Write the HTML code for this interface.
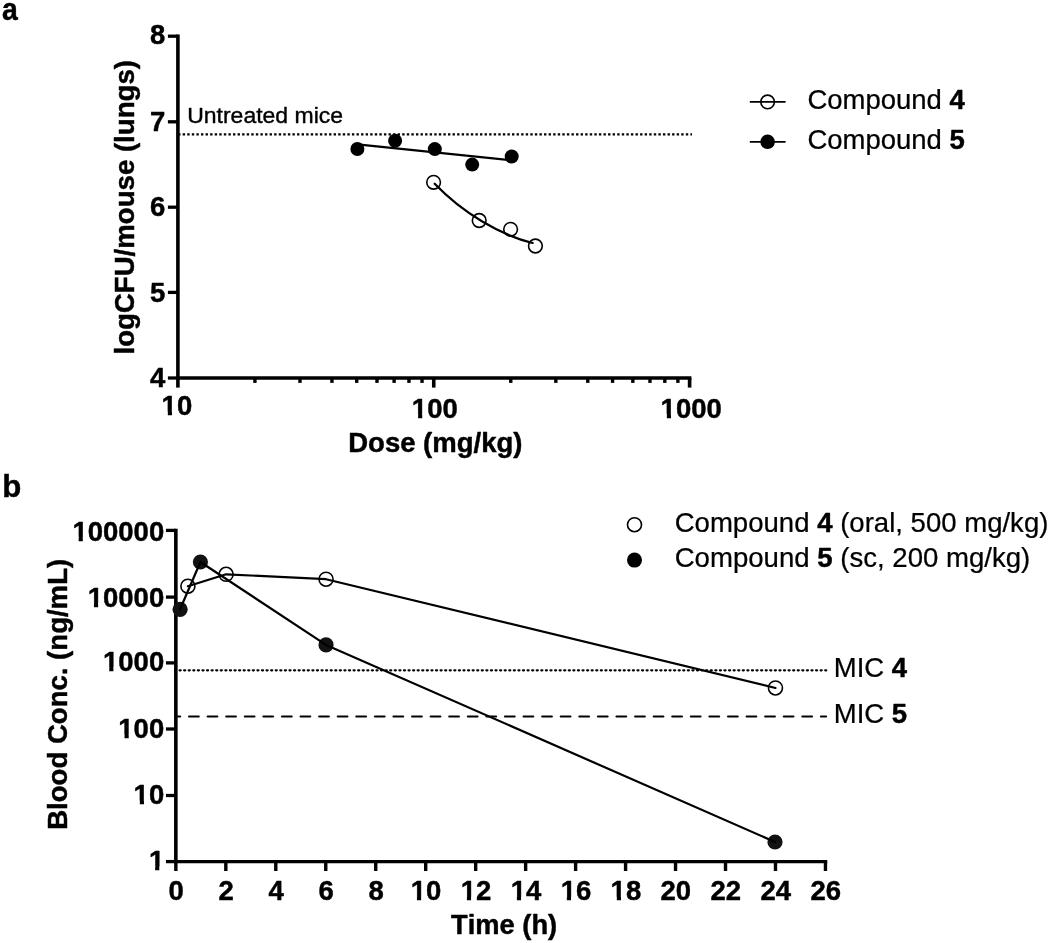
<!DOCTYPE html>
<html lang="en">
<head>
<meta charset="utf-8">
<title>Figure: in vivo efficacy and pharmacokinetics of compounds 4 and 5</title>
<style>
html,body{margin:0;padding:0;background:#fff;}
body{width:1050px;height:943px;overflow:hidden;}
svg{display:block;will-change:transform;filter:grayscale(1);}
text{font-family:"Liberation Sans",sans-serif;font-size:27.5px;fill:#000;font-kerning:none;white-space:pre;}
.b{font-weight:bold;stroke:#000;stroke-width:0.45px;stroke-linejoin:round;}
.r{font-weight:normal;stroke:#000;stroke-width:0.25px;stroke-linejoin:round;}
</style>
</head>
<body>
<svg width="1050" height="943" viewBox="0 0 1050 943">
<rect x="0" y="0" width="1050" height="943" fill="#fff"/>
<g id="chartA">
<line x1="177.9" y1="34.55" x2="177.9" y2="379.65" stroke="#000" stroke-width="3.6"/>
<line x1="176.1" y1="378" x2="691.4" y2="378" stroke="#000" stroke-width="3.3"/>
<line x1="167.9" y1="36.2" x2="177.9" y2="36.2" stroke="#000" stroke-width="3.3"/>
<text transform="translate(165.2,44.3) scale(1.0,1.03)" class="b" text-anchor="end">8</text>
<line x1="167.9" y1="121.8" x2="177.9" y2="121.8" stroke="#000" stroke-width="3.3"/>
<text transform="translate(165.2,130.6) scale(1.0,1.03)" class="b" text-anchor="end">7</text>
<line x1="167.9" y1="207.2" x2="177.9" y2="207.2" stroke="#000" stroke-width="3.3"/>
<text transform="translate(165.2,215.5) scale(1.0,1.03)" class="b" text-anchor="end">6</text>
<line x1="167.9" y1="292.4" x2="177.9" y2="292.4" stroke="#000" stroke-width="3.3"/>
<text transform="translate(165.2,302) scale(1.0,1.03)" class="b" text-anchor="end">5</text>
<line x1="167.9" y1="378" x2="177.9" y2="378" stroke="#000" stroke-width="3.3"/>
<text transform="translate(165.2,386.5) scale(1.0,1.03)" class="b" text-anchor="end">4</text>
<line x1="177.9" y1="378" x2="177.9" y2="387.6" stroke="#000" stroke-width="3.6"/>
<line x1="254.92" y1="378" x2="254.92" y2="382.9" stroke="#000" stroke-width="3.4"/>
<line x1="299.97" y1="378" x2="299.97" y2="382.9" stroke="#000" stroke-width="3.4"/>
<line x1="331.94" y1="378" x2="331.94" y2="382.9" stroke="#000" stroke-width="3.4"/>
<line x1="356.73" y1="378" x2="356.73" y2="382.9" stroke="#000" stroke-width="3.4"/>
<line x1="376.99" y1="378" x2="376.99" y2="382.9" stroke="#000" stroke-width="3.4"/>
<line x1="394.12" y1="378" x2="394.12" y2="382.9" stroke="#000" stroke-width="3.4"/>
<line x1="408.96" y1="378" x2="408.96" y2="382.9" stroke="#000" stroke-width="3.4"/>
<line x1="422.04" y1="378" x2="422.04" y2="382.9" stroke="#000" stroke-width="3.4"/>
<line x1="433.75" y1="378" x2="433.75" y2="387.6" stroke="#000" stroke-width="3.6"/>
<line x1="510.77" y1="378" x2="510.77" y2="382.9" stroke="#000" stroke-width="3.4"/>
<line x1="555.82" y1="378" x2="555.82" y2="382.9" stroke="#000" stroke-width="3.4"/>
<line x1="587.79" y1="378" x2="587.79" y2="382.9" stroke="#000" stroke-width="3.4"/>
<line x1="612.58" y1="378" x2="612.58" y2="382.9" stroke="#000" stroke-width="3.4"/>
<line x1="632.84" y1="378" x2="632.84" y2="382.9" stroke="#000" stroke-width="3.4"/>
<line x1="649.97" y1="378" x2="649.97" y2="382.9" stroke="#000" stroke-width="3.4"/>
<line x1="664.81" y1="378" x2="664.81" y2="382.9" stroke="#000" stroke-width="3.4"/>
<line x1="677.89" y1="378" x2="677.89" y2="382.9" stroke="#000" stroke-width="3.4"/>
<line x1="689.6" y1="378" x2="689.6" y2="387.6" stroke="#000" stroke-width="3.6"/>
<text transform="translate(176.9,415.3) scale(1.0,1.03)" class="b" text-anchor="middle">10</text>
<rect x="162.01" y="411.84" width="5.82" height="5.06" fill="#fff"/>
<rect x="172" y="411.84" width="5.39" height="5.06" fill="#fff"/>
<text transform="translate(434.8,417.6) scale(1.0,1.03)" class="b" text-anchor="middle">100</text>
<rect x="412.26" y="414.14" width="5.82" height="5.06" fill="#fff"/>
<rect x="422.25" y="414.14" width="5.39" height="5.06" fill="#fff"/>
<text transform="translate(691.2,417.5) scale(1.0,1.03)" class="b" text-anchor="middle">1000</text>
<rect x="661.01" y="414.04" width="5.82" height="5.06" fill="#fff"/>
<rect x="671" y="414.04" width="5.39" height="5.06" fill="#fff"/>
<text transform="translate(435.3,452.2) scale(1.0,1.03)" class="b" text-anchor="middle">Dose (mg/kg)</text>
<text transform="translate(133.7,207.3) rotate(-90) scale(1.004,1.02)" class="b" text-anchor="middle">logCFU/mouse (lungs)</text>
<line x1="178.09" y1="134.35" x2="692" y2="134.35" stroke="#000" stroke-width="2.3" stroke-dasharray="2.4 2.1742"/>
<text transform="translate(187.2,122.6) scale(1.0,0.935)" class="r" style="font-size:23.0px;stroke-width:0.4px">Untreated mice</text>
<line x1="357.4" y1="144.3" x2="511.7" y2="160.3" stroke="#000" stroke-width="2.2"/>
<circle cx="357.4" cy="149.0" r="7" fill="#000"/>
<circle cx="395.1" cy="140.8" r="7" fill="#000"/>
<circle cx="434.8" cy="149.1" r="7" fill="#000"/>
<circle cx="472.2" cy="164.6" r="7" fill="#000"/>
<circle cx="511.7" cy="156.5" r="7" fill="#000"/>
<circle cx="433.6" cy="182.3" r="6.85" fill="none" stroke="#000" stroke-width="1.6"/>
<circle cx="479.2" cy="220.5" r="6.85" fill="none" stroke="#000" stroke-width="1.6"/>
<circle cx="510.6" cy="229.3" r="6.85" fill="none" stroke="#000" stroke-width="1.6"/>
<circle cx="535.4" cy="246.0" r="6.85" fill="none" stroke="#000" stroke-width="1.6"/>
<path d="M434.7 183.7 C 462.5 212.7, 500.1 235, 532.6 243" fill="none" stroke="#000" stroke-width="2.2" stroke-linecap="round"/>
<line x1="749.8" y1="101.9" x2="785.6" y2="101.9" stroke="#000" stroke-width="1.7"/>
<circle cx="767.6" cy="101.9" r="6.8" fill="none" stroke="#000" stroke-width="1.6"/>
<text transform="translate(807.4,109.2) scale(1.0,0.98)" class="r">Compound </text>
<text transform="translate(949.57,109.2) scale(1.0,1.03)" class="b">4</text>
<line x1="749.8" y1="141.8" x2="785.6" y2="141.8" stroke="#000" stroke-width="1.7"/>
<circle cx="767.6" cy="141.8" r="7.3" fill="#000"/>
<text transform="translate(807.4,149.1) scale(1.0,0.98)" class="r">Compound </text>
<text transform="translate(949.57,149.1) scale(1.0,1.03)" class="b">5</text>
</g>
<g id="chartB">
<line x1="175.85" y1="528.75" x2="175.85" y2="863.25" stroke="#000" stroke-width="3.6"/>
<line x1="174.05" y1="861.6" x2="827.26" y2="861.6" stroke="#000" stroke-width="3.3"/>
<line x1="165.95" y1="530.4" x2="175.85" y2="530.4" stroke="#000" stroke-width="3.3"/>
<text transform="translate(164.2,540.5) scale(1.0,1.03)" class="b" text-anchor="end">100000</text>
<rect x="72.84" y="537.04" width="5.82" height="5.06" fill="#fff"/>
<rect x="82.83" y="537.04" width="5.39" height="5.06" fill="#fff"/>
<line x1="165.95" y1="597.1" x2="175.85" y2="597.1" stroke="#000" stroke-width="3.3"/>
<text transform="translate(164.2,606.5) scale(1.0,1.03)" class="b" text-anchor="end">10000</text>
<rect x="88.13" y="603.04" width="5.82" height="5.06" fill="#fff"/>
<rect x="98.12" y="603.04" width="5.39" height="5.06" fill="#fff"/>
<line x1="165.95" y1="662.9" x2="175.85" y2="662.9" stroke="#000" stroke-width="3.3"/>
<text transform="translate(164.2,670.7) scale(1.0,1.03)" class="b" text-anchor="end">1000</text>
<rect x="103.43" y="667.24" width="5.82" height="5.06" fill="#fff"/>
<rect x="113.41" y="667.24" width="5.39" height="5.06" fill="#fff"/>
<line x1="165.95" y1="729" x2="175.85" y2="729" stroke="#000" stroke-width="3.3"/>
<text transform="translate(164.2,738.2) scale(1.0,1.03)" class="b" text-anchor="end">100</text>
<rect x="118.72" y="734.74" width="5.82" height="5.06" fill="#fff"/>
<rect x="128.71" y="734.74" width="5.39" height="5.06" fill="#fff"/>
<line x1="165.95" y1="795.5" x2="175.85" y2="795.5" stroke="#000" stroke-width="3.3"/>
<text transform="translate(164.2,804) scale(1.0,1.03)" class="b" text-anchor="end">10</text>
<rect x="134.01" y="800.54" width="5.82" height="5.06" fill="#fff"/>
<rect x="144" y="800.54" width="5.39" height="5.06" fill="#fff"/>
<line x1="165.95" y1="861.6" x2="175.85" y2="861.6" stroke="#000" stroke-width="3.3"/>
<text transform="translate(164.2,870.1) scale(1.0,1.03)" class="b" text-anchor="end">1</text>
<rect x="149.31" y="866.64" width="5.82" height="5.06" fill="#fff"/>
<rect x="159.3" y="866.64" width="5.39" height="5.06" fill="#fff"/>
<line x1="175.85" y1="861.6" x2="175.85" y2="871" stroke="#000" stroke-width="3.4"/>
<text transform="translate(176.15,900.3) scale(1.0,1.03)" class="b" text-anchor="middle">0</text>
<line x1="225.82" y1="861.6" x2="225.82" y2="871" stroke="#000" stroke-width="3.4"/>
<text transform="translate(226.12,900.3) scale(1.0,1.03)" class="b" text-anchor="middle">2</text>
<line x1="275.79" y1="861.6" x2="275.79" y2="871" stroke="#000" stroke-width="3.4"/>
<text transform="translate(276.09,900.3) scale(1.0,1.03)" class="b" text-anchor="middle">4</text>
<line x1="325.76" y1="861.6" x2="325.76" y2="871" stroke="#000" stroke-width="3.4"/>
<text transform="translate(326.06,900.3) scale(1.0,1.03)" class="b" text-anchor="middle">6</text>
<line x1="375.73" y1="861.6" x2="375.73" y2="871" stroke="#000" stroke-width="3.4"/>
<text transform="translate(376.03,900.3) scale(1.0,1.03)" class="b" text-anchor="middle">8</text>
<line x1="425.7" y1="861.6" x2="425.7" y2="871" stroke="#000" stroke-width="3.4"/>
<text transform="translate(426,900.3) scale(1.0,1.03)" class="b" text-anchor="middle">10</text>
<rect x="411.11" y="896.84" width="5.82" height="5.06" fill="#fff"/>
<rect x="421.1" y="896.84" width="5.39" height="5.06" fill="#fff"/>
<line x1="475.67" y1="861.6" x2="475.67" y2="871" stroke="#000" stroke-width="3.4"/>
<text transform="translate(475.97,900.3) scale(1.0,1.03)" class="b" text-anchor="middle">12</text>
<rect x="461.08" y="896.84" width="5.82" height="5.06" fill="#fff"/>
<rect x="471.07" y="896.84" width="5.39" height="5.06" fill="#fff"/>
<line x1="525.64" y1="861.6" x2="525.64" y2="871" stroke="#000" stroke-width="3.4"/>
<text transform="translate(525.94,900.3) scale(1.0,1.03)" class="b" text-anchor="middle">14</text>
<rect x="511.05" y="896.84" width="5.82" height="5.06" fill="#fff"/>
<rect x="521.04" y="896.84" width="5.39" height="5.06" fill="#fff"/>
<line x1="575.61" y1="861.6" x2="575.61" y2="871" stroke="#000" stroke-width="3.4"/>
<text transform="translate(575.91,900.3) scale(1.0,1.03)" class="b" text-anchor="middle">16</text>
<rect x="561.02" y="896.84" width="5.82" height="5.06" fill="#fff"/>
<rect x="571.01" y="896.84" width="5.39" height="5.06" fill="#fff"/>
<line x1="625.58" y1="861.6" x2="625.58" y2="871" stroke="#000" stroke-width="3.4"/>
<text transform="translate(625.88,900.3) scale(1.0,1.03)" class="b" text-anchor="middle">18</text>
<rect x="610.99" y="896.84" width="5.82" height="5.06" fill="#fff"/>
<rect x="620.98" y="896.84" width="5.39" height="5.06" fill="#fff"/>
<line x1="675.55" y1="861.6" x2="675.55" y2="871" stroke="#000" stroke-width="3.4"/>
<text transform="translate(675.85,900.3) scale(1.0,1.03)" class="b" text-anchor="middle">20</text>
<line x1="725.52" y1="861.6" x2="725.52" y2="871" stroke="#000" stroke-width="3.4"/>
<text transform="translate(725.82,900.3) scale(1.0,1.03)" class="b" text-anchor="middle">22</text>
<line x1="775.49" y1="861.6" x2="775.49" y2="871" stroke="#000" stroke-width="3.4"/>
<text transform="translate(775.79,900.3) scale(1.0,1.03)" class="b" text-anchor="middle">24</text>
<line x1="825.46" y1="861.6" x2="825.46" y2="871" stroke="#000" stroke-width="3.4"/>
<text transform="translate(825.76,900.3) scale(1.0,1.03)" class="b" text-anchor="middle">26</text>
<text transform="translate(504.1,934) scale(0.992,1.03)" class="b" text-anchor="middle">Time (h)</text>
<text transform="translate(67,694.35) rotate(-90) scale(1.003,1.02)" class="b" text-anchor="middle">Blood Conc. (ng/mL)</text>
<line x1="175.02" y1="670.35" x2="826.4" y2="670.35" stroke="#000" stroke-width="2.3" stroke-dasharray="1 3.579" stroke-linecap="round"/>
<line x1="175.9" y1="716.5" x2="826.1" y2="716.5" stroke="#000" stroke-width="2.1" stroke-dasharray="9.7 8.885" stroke-dashoffset="5.435" stroke-linecap="round"/>
<text transform="translate(833.8,676.6) scale(1.0,0.98)" class="r">MIC </text>
<text transform="translate(891.85,676.6) scale(1.0,1.03)" class="b">4</text>
<text transform="translate(833.8,722.9) scale(1.0,0.98)" class="r">MIC </text>
<text transform="translate(891.85,722.9) scale(1.0,1.03)" class="b">5</text>
<circle cx="187.9" cy="586.2" r="7" fill="none" stroke="#000" stroke-width="1.6"/>
<circle cx="226.1" cy="574.3" r="7" fill="none" stroke="#000" stroke-width="1.6"/>
<circle cx="326.05" cy="579.2" r="7" fill="none" stroke="#000" stroke-width="1.6"/>
<circle cx="775.45" cy="687.95" r="7" fill="none" stroke="#000" stroke-width="1.6"/>
<polyline points="187.9,586.2 226.1,574.3 326.05,579.2 775.45,687.95" fill="none" stroke="#000" stroke-width="2.2" stroke-linecap="round" stroke-linejoin="round"/>
<circle cx="180.1" cy="609.3" r="7.6" fill="#121212"/>
<circle cx="200.4" cy="562.0" r="7.6" fill="#121212"/>
<circle cx="326.05" cy="644.9" r="7.6" fill="#121212"/>
<circle cx="775.0" cy="842.0" r="7.6" fill="#121212"/>
<polyline points="180.1,609.3 200.4,562.0 326.05,644.9 775.0,842.0" fill="none" stroke="#000" stroke-width="2.2" stroke-linecap="round" stroke-linejoin="round"/>
<circle cx="634.5" cy="524.7" r="7.0" fill="none" stroke="#000" stroke-width="1.6"/>
<circle cx="634.5" cy="560.1" r="7.5" fill="#000"/>
<text transform="translate(674.7,531.6) scale(1.002,0.98)" class="r">Compound </text>
<text transform="translate(817.16,531.6) scale(1.002,1.03)" class="b">4</text>
<text transform="translate(832.48,531.6) scale(1.002,0.98)" class="r"> (oral, 500 mg/kg)</text>
<text transform="translate(674.7,566.8) scale(1.003,0.98)" class="r">Compound </text>
<text transform="translate(817.3,566.8) scale(1.003,1.03)" class="b">5</text>
<text transform="translate(832.64,566.8) scale(1.003,0.98)" class="r"> (sc, 200 mg/kg)</text>
</g>
<text transform="translate(2.1,20.1) scale(0.875,0.95)" class="b" style="font-size:32.5px">a</text>
<text transform="translate(2.3,497) scale(0.96,0.95)" class="b" style="font-size:32.5px">b</text>
</svg>
</body>
</html>
